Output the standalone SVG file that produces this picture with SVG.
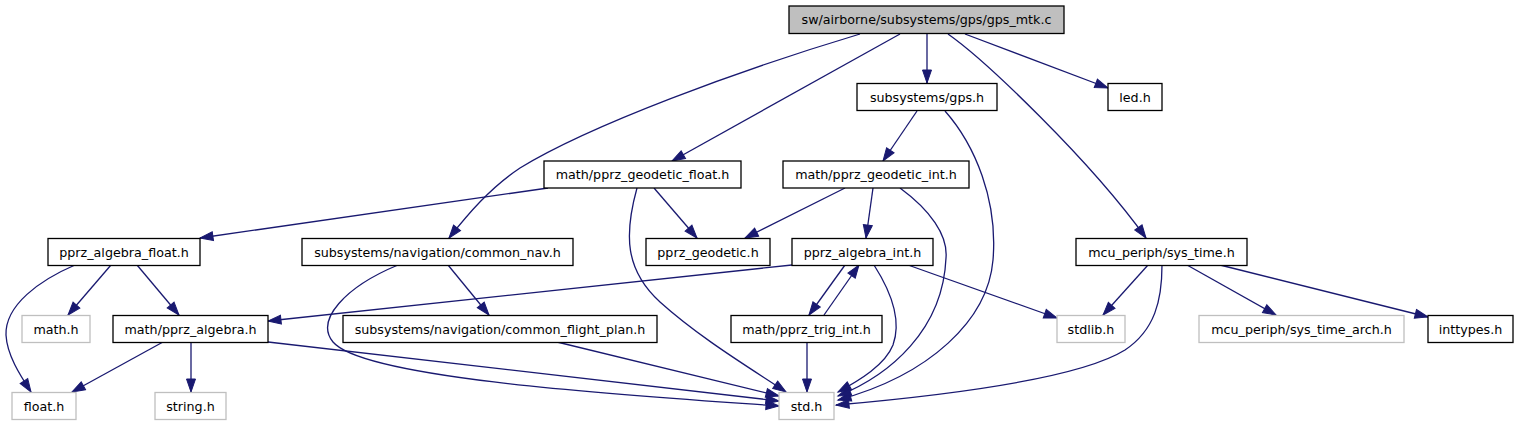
<svg xmlns="http://www.w3.org/2000/svg" width="1519" height="427" viewBox="0 0 1519 427">
<style>
.n rect{fill:#fff;stroke:#000;stroke-width:1.3}
.g rect{fill:#fff;stroke:#bfbfbf;stroke-width:1.3}
.root rect{fill:#bfbfbf;stroke:#000;stroke-width:1.3}
text{font-family:"DejaVu Sans",sans-serif;font-size:12.7px;fill:#000;text-anchor:middle}
#edges path{fill:none;stroke:#191970;stroke-width:1.3;marker-end:url(#arr)}
</style>
<defs>
<marker id="arr" markerUnits="userSpaceOnUse" viewBox="0 -5 13 10" refX="13" refY="0" markerWidth="13" markerHeight="10" orient="auto" overflow="visible">
<path d="M0,-4.5 L13,0 L0,4.5 z" fill="#191970" stroke="#191970" stroke-width="1"/>
</marker>
</defs>
<rect width="1519" height="427" fill="#fff"/>
<g id="edges">
<path d="M860,34 C740,70 590,125 520,168 C490,188 468,214 449,238"/>
<path d="M900,34 L672,161"/>
<path d="M927,34 L927,83"/>
<path d="M948,34 C985,60 1090,160 1146,238"/>
<path d="M965,34 L1108,88"/>
<path d="M917,111 L883,161"/>
<path d="M945,111 C975,145 998,200 993,260 C988,320 930,375 838,400"/>
<path d="M548,188 L200,238"/>
<path d="M654,188 L697,238"/>
<path d="M637,188 C624,235 625,270 660,302 C700,338 750,368 786,392"/>
<path d="M845,188 L745,238"/>
<path d="M873,188 L866,238"/>
<path d="M900,188 C930,210 948,235 946,258 C943,330 890,375 838,396"/>
<path d="M111,265 L68,315"/>
<path d="M137,265 L179,315"/>
<path d="M75,265 C40,280 5,305 6,335 C7,355 20,375 31,392"/>
<path d="M448,265 L489,315"/>
<path d="M398,265 C345,287 315,320 333,342 C365,380 640,396 779,406"/>
<path d="M163,342 L72,392"/>
<path d="M191,342 L191,392"/>
<path d="M268,342 L779,401"/>
<path d="M557,342 L779,396"/>
<path d="M792,265 L268,321"/>
<path d="M845,265 L809,315"/>
<path d="M824,315 L859,265"/>
<path d="M874,265 C890,290 902,320 893,345 C885,365 860,380 838,392"/>
<path d="M908,265 L1057,318"/>
<path d="M807,342 L807,392"/>
<path d="M1148,265 L1103,315"/>
<path d="M1162,265 C1162,300 1155,330 1125,350 C1080,378 950,395 836,405"/>
<path d="M1187,265 L1276,315"/>
<path d="M1220,265 L1428,317"/>
</g>
<g id="gps_mtk" class="root"><rect x="789" y="6" width="275" height="27.5"/><text x="926.5" y="24">sw/airborne/subsystems/gps/gps_mtk.c</text></g>
<g id="gps_h" class="n"><rect x="857" y="83.5" width="140" height="27"/><text x="927" y="101.5">subsystems/gps.h</text></g>
<g id="led_h" class="n"><rect x="1108" y="83.5" width="54" height="27"/><text x="1135" y="101.5">led.h</text></g>
<g id="geodetic_float" class="n"><rect x="544" y="161" width="197" height="27"/><text x="642.5" y="179">math/pprz_geodetic_float.h</text></g>
<g id="geodetic_int" class="n"><rect x="783" y="161" width="186" height="27"/><text x="876" y="179">math/pprz_geodetic_int.h</text></g>
<g id="algebra_float" class="n"><rect x="48" y="238.5" width="152" height="27"/><text x="124" y="256.5">pprz_algebra_float.h</text></g>
<g id="common_nav" class="n"><rect x="302" y="238.5" width="271" height="27"/><text x="437.5" y="256.5">subsystems/navigation/common_nav.h</text></g>
<g id="pprz_geodetic" class="n"><rect x="646" y="238.5" width="124" height="27"/><text x="708" y="256.5">pprz_geodetic.h</text></g>
<g id="algebra_int" class="n"><rect x="792" y="238.5" width="141" height="27"/><text x="862.5" y="256.5">pprz_algebra_int.h</text></g>
<g id="sys_time" class="n"><rect x="1076" y="238.5" width="171" height="27"/><text x="1161.5" y="256.5">mcu_periph/sys_time.h</text></g>
<g id="math_h" class="g"><rect x="22" y="315.5" width="68" height="27"/><text x="56" y="333.5">math.h</text></g>
<g id="pprz_algebra" class="n"><rect x="113" y="315.5" width="155" height="27"/><text x="190.5" y="333.5">math/pprz_algebra.h</text></g>
<g id="common_flight_plan" class="n"><rect x="343" y="315.5" width="314" height="27"/><text x="500" y="333.5">subsystems/navigation/common_flight_plan.h</text></g>
<g id="trig_int" class="n"><rect x="731" y="315.5" width="151" height="27"/><text x="806.5" y="333.5">math/pprz_trig_int.h</text></g>
<g id="stdlib_h" class="g"><rect x="1057" y="315.5" width="68" height="27"/><text x="1091" y="333.5">stdlib.h</text></g>
<g id="sys_time_arch" class="g"><rect x="1199" y="315.5" width="205" height="27"/><text x="1301.5" y="333.5">mcu_periph/sys_time_arch.h</text></g>
<g id="inttypes_h" class="n"><rect x="1428" y="315.5" width="85" height="27"/><text x="1470.5" y="333.5">inttypes.h</text></g>
<g id="float_h" class="g"><rect x="12" y="392.5" width="64" height="27"/><text x="44" y="410.5">float.h</text></g>
<g id="string_h" class="g"><rect x="155" y="392.5" width="71" height="27"/><text x="190.5" y="410.5">string.h</text></g>
<g id="std_h" class="g"><rect x="779" y="392.5" width="55" height="27"/><text x="806.5" y="410.5">std.h</text></g>
</svg>
